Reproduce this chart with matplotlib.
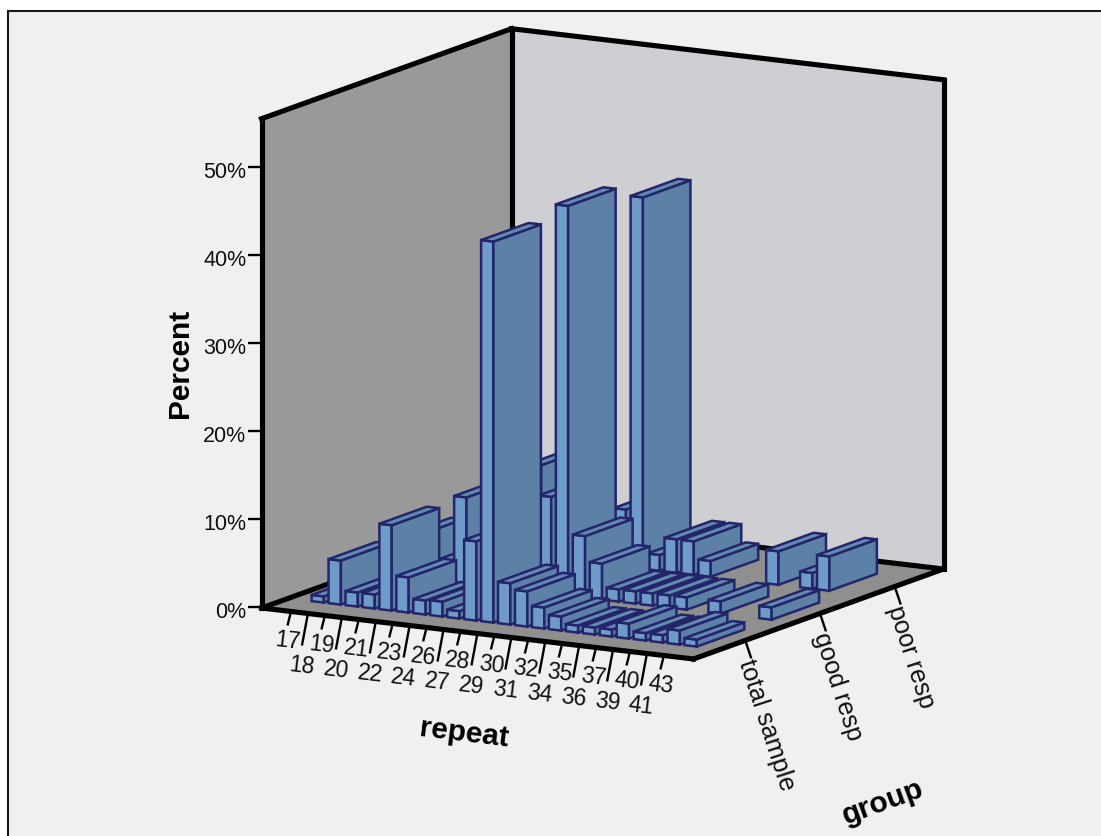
import matplotlib
matplotlib.use("Agg")
import matplotlib.pyplot as plt
from matplotlib.patches import Polygon, Rectangle

plt.rcParams['font.family'] = ['Liberation Sans', 'DejaVu Sans']

repeat_labels = ['17', '18', '19', '20', '21', '22', '23', '24', '26', '27', '28', '29',
                 '30', '31', '32', '34', '35', '36', '37', '39', '40', '41', '43']
group_labels = ['total sample', 'good resp', 'poor resp']
percent_ticks = [0, 10, 20, 30, 40, 50]

total_sample = [0.7, 5.0, 1.6, 1.6, 9.7, 4.0, 1.6, 1.7, 0.85, 9.0, 43.3, 4.7,
                4.0, 2.4, 1.6, 0.8, 0.8, 0.8, 1.7, 0.85, 0.85, 1.6, 0.8]
good_resp = [1.4, 4.7, 1.4, 1.4, 9.8, 4.2, 1.4, 1.4, 0, 11.0, 44.3, 7.0,
             4.1, 1.4, 1.4, 1.4, 1.4, 1.4, 0, 1.4, 0, 0, 1.4]
poor_resp = [0, 5.4, 1.8, 1.8, 10.4, 3.8, 1.8, 1.9, 1.8, 6.5, 42.2, 1.8,
             3.8, 3.8, 1.8, 0, 0, 0, 3.8, 0, 1.8, 3.9, 0]

# screen position of the box: parallel projection, so three vectors are enough
ORIGIN = (261.5, 609.0)
U_VEC = (432.0, 51.0)
V_VEC = (250.0, -90.0)
PX_PER_PCT = 8.8
Z_TOP = 55.6

SLOT = 16.95 / 432.0
U_START = 29.5 / 432.0
V_CENTERS = [0.207, 0.506, 0.805]
BAR_W = 0.0285
BAR_D = 0.19

INK = '#000000'
BAR_EDGE = '#23256b'
FRONT = '#6f9bc9'
SIDE = '#5c80a6'
TOP = '#6489b0'


def project(u, v, z=0.0):
    x = ORIGIN[0] + U_VEC[0] * u + V_VEC[0] * v
    y = ORIGIN[1] + U_VEC[1] * u + V_VEC[1] * v - PX_PER_PCT * z
    return (x, y)


def draw_bar(ax, u, v, h):
    u0, u1 = u - BAR_W / 2, u + BAR_W / 2
    v0, v1 = v - 0.1, v - 0.1 + BAR_D
    faces = [
        ([(u0, v0, 0), (u1, v0, 0), (u1, v0, h), (u0, v0, h)], FRONT),
        ([(u1, v0, 0), (u1, v1, 0), (u1, v1, h), (u1, v0, h)], SIDE),
        ([(u0, v0, h), (u1, v0, h), (u1, v1, h), (u0, v1, h)], TOP),
    ]
    for corners, col in faces:
        ax.add_patch(Polygon([project(*c) for c in corners], closed=True, facecolor=col,
                             edgecolor=BAR_EDGE, linewidth=1.8, joinstyle='miter', zorder=5))


fig = plt.figure(figsize=(11.01, 8.37), dpi=100, facecolor='white')
ax = fig.add_axes([0, 0, 1, 1])
ax.set_xlim(0, 1101)
ax.set_ylim(837, 0)
ax.axis('off')

ax.add_patch(Rectangle((8, 12), 1200, 900, facecolor='#f0f0f0', edgecolor='#1a1a1a', linewidth=1.5))

# walls and floor
a, b, c, d = project(0, 0), project(1, 0), project(1, 1), project(0, 1)
a_t, c_t, d_t = project(0, 0, Z_TOP), project(1, 1, Z_TOP), project(0, 1, Z_TOP)
ax.add_patch(Polygon([a, d, d_t, a_t], facecolor='#999999', edgecolor='none'))
ax.add_patch(Polygon([d, c, c_t, d_t], facecolor='#cfced3', edgecolor='none'))
ax.add_patch(Polygon([a, b, c, d], facecolor='#8f8f8f', edgecolor='none'))

for p, q in [(a, a_t), (a_t, d_t), (d_t, c_t), (c_t, c), (d, d_t), (a, d), (d, c), (a, b), (b, c)]:
    ax.plot([p[0], q[0]], [p[1], q[1]], color=INK, lw=3.7, solid_capstyle='projecting', zorder=3)

# back row first so the front rows cover it
for v, values in reversed(list(zip(V_CENTERS, [total_sample, good_resp, poor_resp]))):
    for i, h in enumerate(values):
        if h > 0:
            draw_bar(ax, U_START + SLOT * i, v, h)

# percent axis
for t in percent_ticks:
    x, y = project(0, 0, t)
    ax.plot([x - 14, x], [y - 1, y - 1], color=INK, lw=1.7, solid_capstyle='butt', zorder=2)
    ax.text(x - 15, y + 3, f'{t}%', ha='right', va='center', fontsize=15.5, color='#111111')
ax.text(179.5, 363, 'Percent', rotation=90, ha='center', va='center', fontsize=21.5, fontweight='bold')

# repeat axis, labels staggered on two rows
for i, lab in enumerate(repeat_labels):
    x, y = project(U_START + SLOT * i, 0)
    if i % 2 == 0:
        ax.plot([x, x - 3.5], [y, y + 14], color=INK, lw=1.7, solid_capstyle='butt', zorder=2)
        ax.text(x - 3, y + 28.5, lab, rotation=-6.9, rotation_mode='anchor',
                ha='center', va='center', fontsize=16.5, color='#111111')
    else:
        ax.plot([x, x - 6], [y, y + 32], color=INK, lw=1.7, solid_capstyle='butt', zorder=2)
        ax.text(x - 6, y + 52, lab, rotation=-6.9, rotation_mode='anchor',
                ha='center', va='center', fontsize=16.5, color='#111111')
ax.text(464, 733, 'repeat', rotation=-6.9, rotation_mode='anchor', ha='center', va='center',
        fontsize=21.5, fontweight='bold')

# group axis
for v, lab in zip(V_CENTERS, group_labels):
    x, y = project(1, v)
    ax.plot([x, x + 6], [y, y + 18], color=INK, lw=1.7, solid_capstyle='butt', zorder=2)
    ax.text(x, y + 19, lab, rotation=-72, rotation_mode='anchor', ha='left', va='center',
            fontsize=18.2, color='#111111')
ax.text(883, 802, 'group', rotation=20, rotation_mode='anchor', ha='center', va='center',
        fontsize=21.5, fontweight='bold')

fig.savefig('out.png', dpi=100, facecolor='white')
